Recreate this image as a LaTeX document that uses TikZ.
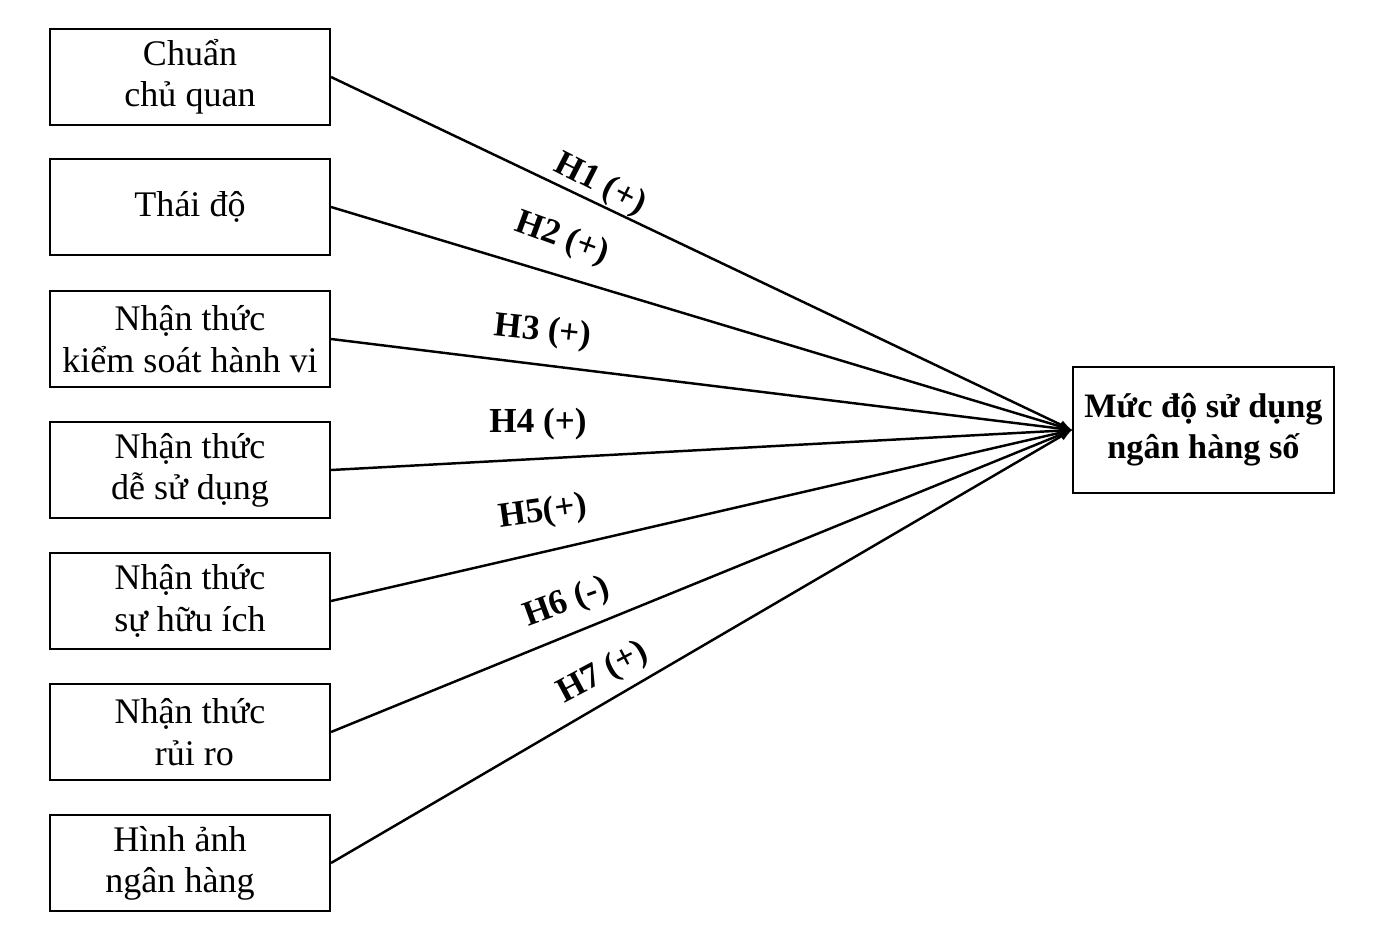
\documentclass[tikz,border=0pt]{standalone}
\usepackage{fontspec}
\setmainfont{Liberation Serif}
\usepackage{xcolor}
\usetikzlibrary{arrows}

\tikzset{
	factor/.style={draw=black, line width=1.2pt, minimum width=5.6cm, minimum height=1.92cm, align=center, inner sep=0pt, font=\fontsize{20.5}{23.5}\selectfont},
	outcome/.style={factor, minimum width=5.22cm, minimum height=2.52cm, font=\fontsize{19.5}{23.5}\selectfont\bfseries},
	hyp/.style={black, inner sep=1pt, font=\fontsize{20}{23}\selectfont\bfseries},
	link/.style={draw=black, -latex, line width=1.4pt}
}

\begin{document}
\begin{tikzpicture}
	\useasboundingbox (0,0) rectangle (27.90,-18.84);
	\node[factor] (chuan) at (3.80,-1.54) {Chuẩn\\chủ quan};
	\node[factor] (thaido) at (3.80,-4.14) {Thái độ};
	\node[factor] (kiemsoat) at (3.80,-6.78) {Nhận thức\\kiểm soát hành vi};
	\node[factor] (desudung) at (3.80,-9.40) {Nhận thức\\dễ sử dụng};
	\node[factor] (huuich) at (3.80,-12.02) {Nhận thức\\sự hữu ích};
	\node[factor] (ruiro) at (3.80,-14.64) {Nhận thức\\\ rủi ro};
	\node[factor] (hinhanh) at (3.80,-17.26) {Hình ảnh\hspace*{0.4cm}\\ngân hàng\hspace*{0.4cm}};
	\node[outcome] (nhso) at (24.07,-8.60) {Mức độ sử dụng\\ngân hàng số};
	\node[hyp, rotate=-27] (h1) at (12.00,-3.70) {H1 (+)};
	\node[hyp, rotate=-20] (h2) at (11.24,-4.78) {H2 (+)};
	\node[hyp, rotate=-6] (h3) at (10.86,-6.64) {H3 (+)};
	\node[hyp] (h4) at (10.76,-8.48) {H4 (+)};
	\node[hyp, rotate=8] (h5) at (10.86,-10.26) {H5(+)};
	\node[hyp, rotate=20] (h6) at (11.34,-12.06) {H6 (-)};
	\node[hyp, rotate=28] (h7) at (12.06,-13.46) {H7 (+)};
	\draw[link] (chuan.east) -- (nhso.west);
	\draw[link] (thaido.east) -- (nhso.west);
	\draw[link] (kiemsoat.east) -- (nhso.west);
	\draw[link] (desudung.east) -- (nhso.west);
	\draw[link] (huuich.east) -- (nhso.west);
	\draw[link] (ruiro.east) -- (nhso.west);
	\draw[link] (hinhanh.east) -- (nhso.west);
\end{tikzpicture}
\end{document}
